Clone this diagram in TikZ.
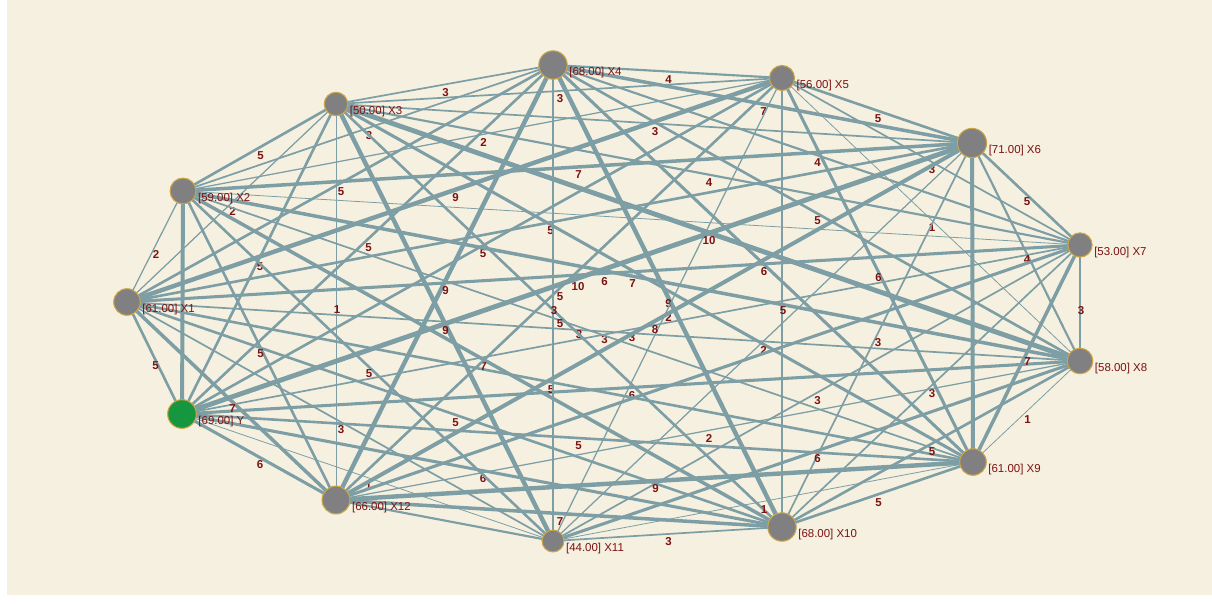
\documentclass[tikz,border=0pt]{standalone}
\usepackage{fontspec}
\setmainfont{Liberation Sans}
\usetikzlibrary{positioning}
\pgfdeclarelayer{back}
\pgfdeclarelayer{edges}
\pgfsetlayers{back,edges,main}
\definecolor{paper}{RGB}{245,240,224}
\definecolor{linkcol}{RGB}{124,158,164}
\definecolor{vgray}{RGB}{128,128,130}
\definecolor{rim}{RGB}{205,165,70}
\definecolor{ygreen}{RGB}{22,150,62}
\definecolor{txtred}{RGB}{125,18,18}
\tikzset{
  vert/.style={circle, fill=vgray, draw=rim, line width=0.8pt, inner sep=0pt, minimum size=#1},
  caption/.style={text=txtred, font=\fontsize{8.6}{9}\selectfont, inner sep=1pt, yshift=-6pt},
  link/.style={draw=linkcol, line width=0.34pt*#1+0.25pt},
  wt/.style={text=txtred, font=\fontsize{8.6}{9}\selectfont\bfseries, inner sep=0pt, xshift=0.75pt, yshift=-6pt}
}
\begin{document}
\begin{tikzpicture}[x=0.75pt, y=-0.75pt]
    \useasboundingbox (0,0) rectangle (1212,603);
    \begin{pgfonlayer}{back}
        \fill[white] (0,0) rectangle (1212,603);
        \fill[paper] (7,0) rectangle (1212,595);
    \end{pgfonlayer}

    \node[vert=21.5pt, fill=ygreen] (y) at (182,414) {};
    \node[vert=19.9pt] (x1) at (127,302) {};
    \node[vert=19.4pt] (x2) at (183,191) {};
    \node[vert=17.6pt] (x3) at (336,104) {};
    \node[vert=21.3pt] (x4) at (553,65) {};
    \node[vert=18.8pt] (x5) at (782,78) {};
    \node[vert=21.9pt] (x6) at (972,143) {};
    \node[vert=18.2pt] (x7) at (1080,245) {};
    \node[vert=19.2pt] (x8) at (1080,361) {};
    \node[vert=19.9pt] (x9) at (973,462) {};
    \node[vert=21.3pt] (x10) at (782,527) {};
    \node[vert=16.4pt] (x11) at (553,541) {};
    \node[vert=20.9pt] (x12) at (336,500) {};

    \node[caption, right=0pt of y] (ycap) {[69.00] Y};
    \node[caption, right=0pt of x1] (x1cap) {[61.00] X1};
    \node[caption, right=0pt of x2] (x2cap) {[59.00] X2};
    \node[caption, right=0pt of x3] (x3cap) {[50.00] X3};
    \node[caption, right=0pt of x4] (x4cap) {[68.00] X4};
    \node[caption, right=0pt of x5] (x5cap) {[56.00] X5};
    \node[caption, right=0pt of x6] (x6cap) {[71.00] X6};
    \node[caption, right=0pt of x7] (x7cap) {[53.00] X7};
    \node[caption, right=0pt of x8] (x8cap) {[58.00] X8};
    \node[caption, right=0pt of x9] (x9cap) {[61.00] X9};
    \node[caption, right=0pt of x10] (x10cap) {[68.00] X10};
    \node[caption, right=0pt of x11] (x11cap) {[44.00] X11};
    \node[caption, right=0pt of x12] (x12cap) {[66.00] X12};

    \begin{pgfonlayer}{edges}
    \draw[link=5] (y.center) -- node[wt] {5} (x1.center);
    \draw[link=8] (y.center) -- (x2.center);
    \draw[link=5] (y.center) -- node[wt] {5} (x3.center);
    \draw[link=5] (y.center) -- node[wt] {5} (x4.center);
    \draw[link=5] (y.center) -- node[wt] {5} (x5.center);
    \draw[link=10] (y.center) -- node[wt] {10} (x6.center);
    \draw[link=3] (y.center) -- node[wt] {3} (x7.center);
    \draw[link=6] (y.center) -- node[wt] {6} (x8.center);
    \draw[link=5] (y.center) -- node[wt] {5} (x9.center);
    \draw[link=6] (y.center) -- node[wt] {6} (x10.center);
    \draw[link=1] (y.center) -- node[wt] {1} (x11.center);
    \draw[link=6] (y.center) -- node[wt] {6} (x12.center);

    \draw[link=2] (x1.center) -- node[wt] {2} (x2.center);
    \draw[link=2] (x1.center) -- node[wt] {2} (x3.center);
    \draw[link=5] (x1.center) -- node[wt] {5} (x4.center);
    \draw[link=9] (x1.center) -- node[wt] {9} (x5.center);
    \draw[link=5] (x1.center) -- node[wt] {5} (x6.center);
    \draw[link=6] (x1.center) -- node[wt] {6} (x7.center);
    \draw[link=3] (x1.center) -- node[wt] {3} (x8.center);
    \draw[link=5] (x1.center) -- node[wt] {5} (x9.center);
    \draw[link=5] (x1.center) -- node[wt] {5} (x10.center);
    \draw[link=3] (x1.center) -- node[wt] {3} (x11.center);
    \draw[link=7] (x1.center) -- node[wt] {7} (x12.center);

    \draw[link=5] (x2.center) -- node[wt] {5} (x3.center);
    \draw[link=3] (x2.center) -- node[wt] {3} (x4.center);
    \draw[link=2] (x2.center) -- node[wt] {2} (x5.center);
    \draw[link=7] (x2.center) -- node[wt] {7} (x6.center);
    \draw[link=1] (x2.center) -- (x7.center);
    \draw[link=7] (x2.center) -- node[wt] {7} (x8.center);
    \draw[link=3] (x2.center) -- node[wt] {3} (x9.center);
    \draw[link=7] (x2.center) -- node[wt] {7} (x10.center);
    \draw[link=5] (x2.center) -- node[wt] {5} (x11.center);
    \draw[link=5] (x2.center) -- node[wt] {5} (x12.center);

    \draw[link=3] (x3.center) -- node[wt] {3} (x4.center);
    \draw[link=3] (x3.center) -- node[wt] {3} (x5.center);
    \draw[link=3] (x3.center) -- node[wt] {3} (x6.center);
    \draw[link=4] (x3.center) -- node[wt] {4} (x7.center);
    \draw[link=10] (x3.center) -- node[wt] {10} (x8.center);
    \draw[link=6] (x3.center) -- (x9.center);
    \draw[link=5] (x3.center) -- node[wt] {5} (x10.center);
    \draw[link=9] (x3.center) -- node[wt] {9} (x11.center);
    \draw[link=1] (x3.center) -- node[wt] {1} (x12.center);

    \draw[link=4] (x4.center) -- node[wt] {4} (x5.center);
    \draw[link=7] (x4.center) -- node[wt] {7} (x6.center);
    \draw[link=4] (x4.center) -- node[wt] {4} (x7.center);
    \draw[link=5] (x4.center) -- node[wt] {5} (x8.center);
    \draw[link=6] (x4.center) -- node[wt] {6} (x9.center);
    \draw[link=9] (x4.center) -- node[wt] {9} (x10.center);
    \draw[link=3] (x4.center) -- node[wt] {3} (x11.center);
    \draw[link=9] (x4.center) -- node[wt] {9} (x12.center);

    \draw[link=5] (x5.center) -- node[wt] {5} (x6.center);
    \draw[link=3] (x5.center) -- node[wt] {3} (x7.center);
    \draw[link=1] (x5.center) -- node[wt] {1} (x8.center);
    \draw[link=6] (x5.center) -- node[wt] {6} (x9.center);
    \draw[link=5] (x5.center) -- node[wt] {5} (x10.center);
    \draw[link=2] (x5.center) -- node[wt] {2} (x11.center);
    \draw[link=5] (x5.center) -- node[wt] {5} (x12.center);

    \draw[link=5] (x6.center) -- node[wt] {5} (x7.center);
    \draw[link=4] (x6.center) -- node[wt] {4} (x8.center);
    \draw[link=8] (x6.center) -- (x9.center);
    \draw[link=3] (x6.center) -- node[wt] {3} (x10.center);
    \draw[link=2] (x6.center) -- node[wt] {2} (x11.center);
    \draw[link=8] (x6.center) -- node[wt] {8} (x12.center);

    \draw[link=3] (x7.center) -- node[wt] {3} (x8.center);
    \draw[link=7] (x7.center) -- node[wt] {7} (x9.center);
    \draw[link=3] (x7.center) -- node[wt] {3} (x10.center);
    \draw[link=3] (x7.center) -- node[wt] {3} (x11.center);
    \draw[link=6] (x7.center) -- (x12.center);

    \draw[link=1] (x8.center) -- node[wt] {1} (x9.center);
    \draw[link=5] (x8.center) -- node[wt] {5} (x10.center);
    \draw[link=6] (x8.center) -- node[wt] {6} (x11.center);
    \draw[link=2] (x8.center) -- node[wt] {2} (x12.center);

    \draw[link=5] (x9.center) -- node[wt] {5} (x10.center);
    \draw[link=1] (x9.center) -- node[wt] {1} (x11.center);
    \draw[link=9] (x9.center) -- node[wt] {9} (x12.center);

    \draw[link=3] (x10.center) -- node[wt] {3} (x11.center);
    \draw[link=7] (x10.center) -- node[wt] {7} (x12.center);

    \draw[link=4] (x11.center) -- (x12.center);
    \end{pgfonlayer}
\end{tikzpicture}
\end{document}
